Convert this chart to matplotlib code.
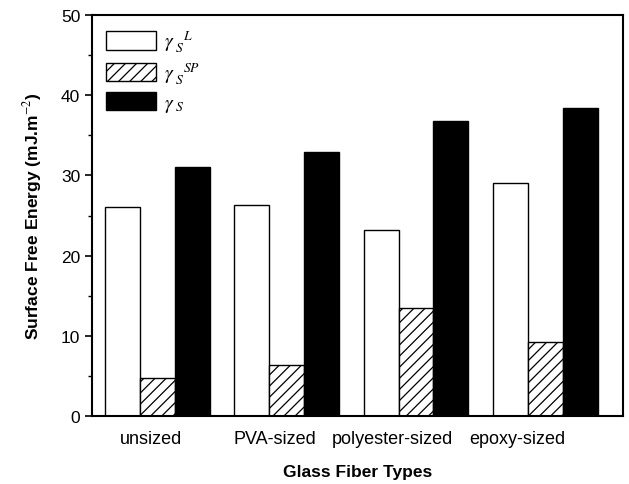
import matplotlib
matplotlib.use("Agg")
import matplotlib.pyplot as plt
import numpy as np

categories = ["unsized", "PVA-sized", "polyester-sized", "epoxy-sized"]
gamma_L = [26.1, 26.3, 23.2, 29.1]
gamma_SP = [4.8, 6.4, 13.5, 9.2]
gamma_S = [31.0, 32.9, 36.8, 38.4]
series_labels = [r"$\gamma_{\ S}^{\ \ \ L}$", r"$\gamma_{\ S}^{\ \ \ SP}$", r"$\gamma_{\ S}$"]

plt.rcParams['font.family'] = ['Liberation Sans', 'DejaVu Sans']
plt.rcParams['mathtext.fontset'] = 'stix'
plt.rcParams['hatch.linewidth'] = 0.9

fig = plt.figure(figsize=(6.29, 4.85), dpi=100)
ax = fig.add_axes([0.1463, 0.1402, 0.8442, 0.8268])

x = np.arange(len(categories))
w = 0.27
ax.bar(x - w, gamma_L, w, color="white", edgecolor="black", linewidth=1.0, label=series_labels[0])
ax.bar(x, gamma_SP, w, color="white", edgecolor="black", linewidth=1.0, hatch="///", label=series_labels[1])
ax.bar(x + w, gamma_S, w, color="black", edgecolor="black", linewidth=1.0, label=series_labels[2])

ax.set_xlim(-0.504, 3.60)
ax.set_ylim(0, 50)
ax.set_yticks([0, 10, 20, 30, 40, 50])
ax.set_yticks([5, 15, 25, 35, 45], minor=True)
label_offsets = [-0.05, -0.09, -0.18, -0.22]
ax.set_xticks(x + np.array(label_offsets))
ax.set_xticklabels(categories, fontsize=13)
ax.tick_params(axis='x', length=0, pad=10)
ax.tick_params(axis='y', which='major', direction='out', length=5, width=1.2, labelsize=12.5)
ax.tick_params(axis='y', which='minor', direction='out', length=3, width=1.0)
for s in ax.spines.values():
    s.set_linewidth(1.5)

ax.set_ylabel("Surface Free Energy (mJ.m$^{-2}$)", fontsize=12.5, fontweight='bold', labelpad=12)
ax.set_xlabel("Glass Fiber Types", fontsize=12.5, fontweight='bold', labelpad=12)

leg = ax.legend(loc='upper left', frameon=False, fontsize=14, handlelength=2.6, handleheight=1.1,
                labelspacing=0.3, handletextpad=0.4, borderaxespad=0.4, borderpad=0.3)

fig.savefig("out.png", dpi=100)
